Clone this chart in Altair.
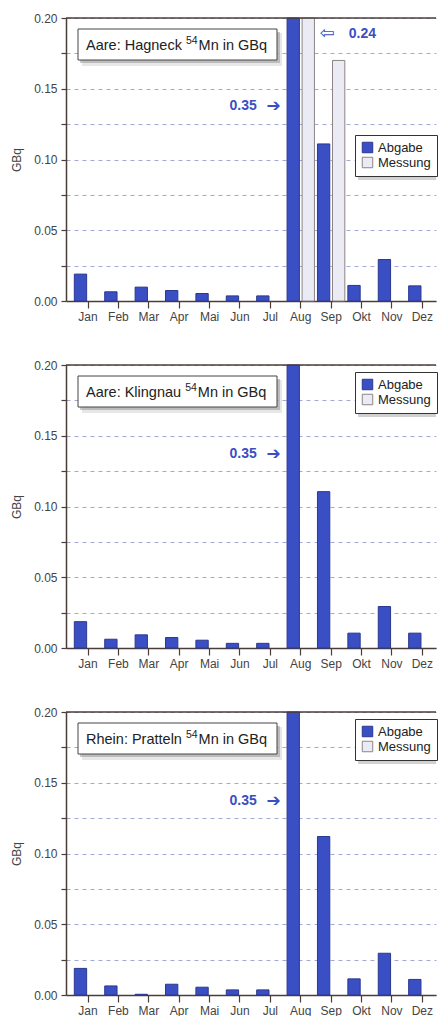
import altair as alt
import pandas as pd

# ---------------- data ----------------
months = ["Jan", "Feb", "Mar", "Apr", "Mai", "Jun", "Jul", "Aug", "Sep", "Okt", "Nov", "Dez"]
series = ["Abgabe", "Messung"]

hagneck_abgabe = [0.019, 0.0065, 0.0098, 0.0074, 0.0053, 0.0036, 0.0036, 0.35, 0.111, 0.011, 0.0293, 0.0107]
hagneck_messung = [None, None, None, None, None, None, None, 0.24, 0.17, None, None, None]

klingnau_abgabe = [0.0186, 0.0062, 0.0093, 0.0074, 0.0055, 0.0033, 0.0033, 0.35, 0.1105, 0.0105, 0.0293, 0.0105]
klingnau_messung = [None] * 12

pratteln_abgabe = [0.0188, 0.0064, 0.0005, 0.0076, 0.0055, 0.0036, 0.0036, 0.35, 0.112, 0.0114, 0.0295, 0.011]
pratteln_messung = [None] * 12

title_places = ["Aare: Hagneck", "Aare: Klingnau", "Rhein: Pratteln"]
title_isotope = "54"
title_rest = "Mn in GBq"

y_ticks = [0.0, 0.025, 0.05, 0.075, 0.1, 0.125, 0.15, 0.175, 0.2]

# ---------------- style ----------------
FONT = "Liberation Sans"
BLUE = "#3a4fc4"
BLUE_EDGE = "#2a3890"
LIGHT = "#ebebf6"
LIGHT_EDGE = "#8c8484"
AXIS_DARK = "#4a3c38"
W, H = 370, 283
TITLE_FS, SUP_FS = 14.5, 10.5

# Arial / Liberation Sans advance widths (per 1000 em) to place the superscript
_ADV = {"A": 667, "a": 556, "r": 333, "e": 556, ":": 278, " ": 278, "H": 722, "g": 556, "n": 556,
        "c": 500, "k": 500, "K": 667, "l": 222, "i": 222, "u": 556, "R": 722, "h": 556, "P": 667,
        "t": 278, "5": 556, "4": 556}


def text_w(s, fs):
    return sum(_ADV.get(ch, 556) for ch in s) * fs / 1000.0


Y_AXIS = alt.Axis(title="GBq", values=y_ticks, grid=True,
                  labelExpr="round(datum.value*40) % 2 == 0 ? format(datum.value, '.2f') : ''")
Y_SCALE = alt.Scale(domain=[0, 0.2], clamp=True, nice=False, zero=True)
X_SCALE = alt.Scale(domain=months, paddingInner=0.1, paddingOuter=0.137, align=1)


def panel(place, abgabe, messung, legend_y, arrow_y, messung_note_y=None):
    rows = []
    for m, a, b in zip(months, abgabe, messung):
        if a is not None:
            rows.append({"Monat": m, "Serie": "Abgabe", "Wert": a})
        if b is not None:
            rows.append({"Monat": m, "Serie": "Messung", "Wert": b})
    df = pd.DataFrame(rows)

    def xe():
        return alt.X("Monat:N", sort=months, scale=X_SCALE, axis=alt.Axis(title=None, labelAngle=0))

    def ye(field):
        return alt.Y(field, scale=Y_SCALE, axis=Y_AXIS)

    bars = alt.Chart(df).mark_bar(strokeWidth=1).encode(
        x=xe(),
        xOffset=alt.XOffset("Serie:N", scale=alt.Scale(domain=series, paddingInner=0.18)),
        y=ye("Wert:Q"),
        color=alt.Color("Serie:N",
                        scale=alt.Scale(domain=series, range=[BLUE, LIGHT]),
                        legend=alt.Legend(orient="none", legendX=289, legendY=legend_y, title=None,
                                          direction="vertical", fillColor="white", strokeColor="#333",
                                          padding=6, symbolType="square", symbolSize=110,
                                          labelFontSize=13, labelFont=FONT, labelColor="#222",
                                          labelOffset=4, rowPadding=0,
                                          symbolStrokeColor="#6f76b4", symbolStrokeWidth=1)),
        stroke=alt.Stroke("Serie:N", scale=alt.Scale(domain=series, range=[BLUE_EDGE, LIGHT_EDGE]),
                          legend=None),
    )

    top_rule = alt.Chart(pd.DataFrame({"v": [0.2]})).mark_rule(color=AXIS_DARK, strokeWidth=1.5).encode(
        y=ye("v:Q"), x=alt.value(0), x2=alt.value(W))

    one = pd.DataFrame({"p": [place], "s": [title_isotope], "r": [title_rest]})
    x0 = 20
    x_sup = x0 + text_w(place + " ", TITLE_FS)
    x_rest = x_sup + text_w(title_isotope, SUP_FS) + 1
    x_end = x_rest + text_w("Mn in GBq", TITLE_FS) * 1.02
    bx0, bx1 = 12, max(211, x_end + 6)

    shadow1 = alt.Chart(one).mark_rect(fill="#bbbbbb", opacity=0.35).encode(
        x=alt.value(bx0 + 4), x2=alt.value(bx1 + 5), y=alt.value(15), y2=alt.value(48))
    shadow2 = alt.Chart(one).mark_rect(fill="#888888", opacity=0.45).encode(
        x=alt.value(bx0 + 2), x2=alt.value(bx1 + 3), y=alt.value(14), y2=alt.value(45))
    box = alt.Chart(one).mark_rect(fill="white", stroke="#444", strokeWidth=1).encode(
        x=alt.value(bx0), x2=alt.value(bx1), y=alt.value(11), y2=alt.value(42))
    t_main = alt.Chart(one).mark_text(align="left", baseline="alphabetic", fontSize=TITLE_FS, font=FONT,
                                      color="#222").encode(x=alt.value(x0), y=alt.value(32), text="p:N")
    t_sup = alt.Chart(one).mark_text(align="left", baseline="alphabetic", fontSize=SUP_FS, font=FONT,
                                     color="#222").encode(x=alt.value(x_sup), y=alt.value(26), text="s:N")
    t_rest = alt.Chart(one).mark_text(align="left", baseline="alphabetic", fontSize=TITLE_FS, font=FONT,
                                      color="#222").encode(x=alt.value(x_rest), y=alt.value(32), text="r:N")

    leg_shadow = alt.Chart(one).mark_rect(fill="#999999", opacity=0.45).encode(
        x=alt.value(292), x2=alt.value(W), y=alt.value(legend_y + 4), y2=alt.value(legend_y + 45))

    ann = pd.DataFrame({"Monat": ["Aug"], "Label": [f"{abgabe[7]:.2f}"], "pos": [arrow_y]})
    ann_text = alt.Chart(ann).mark_text(align="right", baseline="middle", dx=-44, fontSize=14,
                                        fontWeight="bold", font=FONT, color=BLUE).encode(
        x=alt.X("Monat:N", sort=months, scale=X_SCALE), y=ye("pos:Q"), text="Label:N")
    ann_arrow = alt.Chart(ann).mark_text(align="right", baseline="middle", dx=-20, fontSize=17,
                                         font="DejaVu Sans", color=BLUE, text="\u2794").encode(
        x=alt.X("Monat:N", sort=months, scale=X_SCALE), y=ye("pos:Q"))

    layers = [bars, top_rule, leg_shadow, shadow1, shadow2, box, t_main, t_sup, t_rest, ann_text, ann_arrow]

    if messung_note_y is not None:
        ann2 = pd.DataFrame({"Monat": ["Aug"], "Label": [f"{messung[7]:.2f}"], "pos": [messung_note_y]})
        ann2_arrow = alt.Chart(ann2).mark_text(align="left", baseline="middle", dx=19, fontSize=18,
                                               font="DejaVu Sans", color=BLUE, text="\u21e6").encode(
            x=alt.X("Monat:N", sort=months, scale=X_SCALE), y=ye("pos:Q"))
        ann2_text = alt.Chart(ann2).mark_text(align="left", baseline="middle", dx=48, fontSize=14,
                                              fontWeight="bold", font=FONT, color=BLUE).encode(
            x=alt.X("Monat:N", sort=months, scale=X_SCALE), y=ye("pos:Q"), text="Label:N")
        layers += [ann2_arrow, ann2_text]

    return alt.layer(*layers).properties(width=W, height=H)


p1 = panel(title_places[0], hagneck_abgabe, hagneck_messung, 117, 0.138, 0.189)
p2 = panel(title_places[1], klingnau_abgabe, klingnau_messung, 7, 0.137)
p3 = panel(title_places[2], pratteln_abgabe, pratteln_messung, 7, 0.137)

chart = alt.vconcat(p1, p2, p3, spacing=37).resolve_scale(
    color="independent", stroke="independent"
).resolve_legend(color="independent").properties(
    padding={"left": 2, "top": 4, "right": 0, "bottom": 0}
).configure_view(stroke=None).configure_axis(
    labelFont=FONT, titleFont=FONT, labelFontSize=12, titleFontSize=12,
    labelColor="#444", titleColor="#444", titleFontWeight="normal",
    domainColor=AXIS_DARK, domainWidth=1.5, tickColor=AXIS_DARK, tickWidth=1.2,
).configure_axisX(
    tickSize=7, labelPadding=3, grid=False
).configure_axisY(
    tickSize=5, labelPadding=4, titlePadding=10,
    gridColor="#a3a8d6", gridDash=[4, 4], gridWidth=1
)

chart.save("out.html", embed_options={"renderer": "svg", "actions": False})
